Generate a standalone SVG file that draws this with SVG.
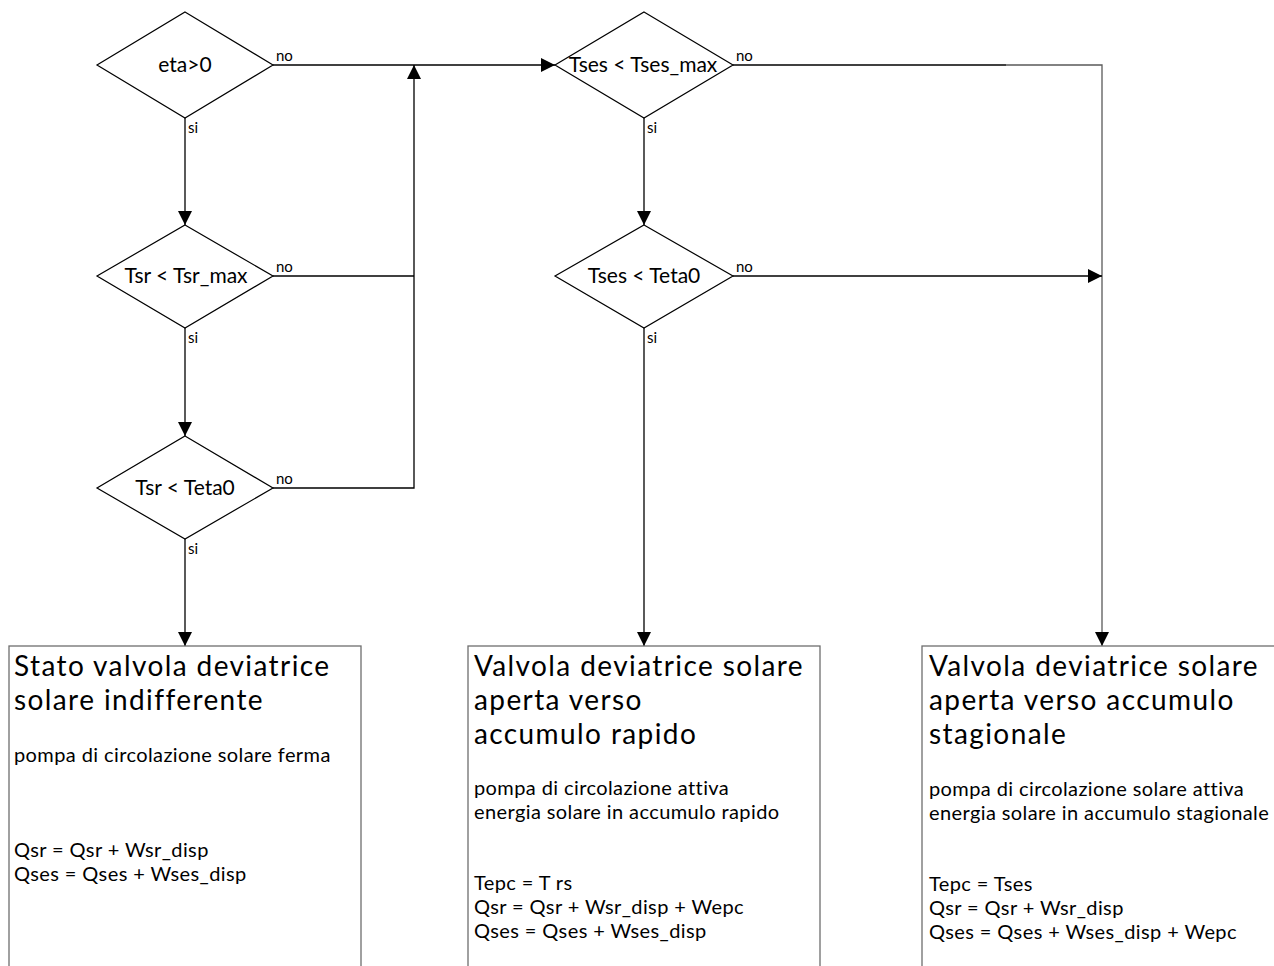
<svg xmlns="http://www.w3.org/2000/svg" width="1274" height="966" viewBox="0 0 1274 966">
<style>
.dia{fill:#fff;stroke:#000;stroke-width:1.2}
.box{fill:#fff;stroke:#6e6e6e;stroke-width:1.3}
.ln{fill:none;stroke:#000;stroke-width:1.3}
.lg{fill:none;stroke:#5a5a5a;stroke-width:1.3}
text{font-family:Lato,"Open Sans","DejaVu Sans",sans-serif;fill:#000}
.dt{font-size:21px;text-anchor:middle}
.lb{font-size:15px}
.tt{font-size:28px;letter-spacing:1.4px}
.bd{font-size:20px;letter-spacing:0.4px}
</style>
<defs>
<marker id="ar" viewBox="0 0 14 14" refX="14" refY="7" markerWidth="14" markerHeight="14" markerUnits="userSpaceOnUse" orient="auto">
<path d="M0,0 L14,7 L0,14 Z" fill="#000"/>
</marker>
</defs>
<g id="connectors">
<line class="ln" x1="185" y1="118" x2="185" y2="225" marker-end="url(#ar)"/>
<line class="ln" x1="185" y1="328" x2="185" y2="436" marker-end="url(#ar)"/>
<line class="ln" x1="185" y1="539" x2="185" y2="646" marker-end="url(#ar)"/>
<line class="ln" x1="273" y1="65" x2="555" y2="65" marker-end="url(#ar)"/>
<line class="ln" x1="273" y1="276" x2="414" y2="276"/>
<polyline class="ln" points="273,488 414,488 414,65" marker-end="url(#ar)"/>
<line class="ln" x1="644" y1="118" x2="644" y2="225" marker-end="url(#ar)"/>
<line class="ln" x1="644" y1="328" x2="644" y2="646" marker-end="url(#ar)"/>
<line class="ln" x1="733" y1="65" x2="1006" y2="65"/>
<polyline class="lg" points="1006,65 1102,65 1102,646" marker-end="url(#ar)"/>
<line class="ln" x1="733" y1="276" x2="1102" y2="276" marker-end="url(#ar)"/>
<text class="lb" x="276" y="61">no</text>
<text class="lb" x="188" y="133">si</text>
<text class="lb" x="276" y="272">no</text>
<text class="lb" x="188" y="343">si</text>
<text class="lb" x="276" y="484">no</text>
<text class="lb" x="188" y="554">si</text>
<text class="lb" x="736" y="61">no</text>
<text class="lb" x="647" y="133">si</text>
<text class="lb" x="736" y="272">no</text>
<text class="lb" x="647" y="343">si</text>
</g>
<g id="d_eta">
<polygon class="dia" points="185,12 273,65 185,118 97,65"/>
<text class="dt" x="185" y="72">eta&gt;0</text>
</g>
<g id="d_tsr_max">
<polygon class="dia" points="185,225 273,276 185,328 97,276"/>
<text class="dt" x="186" y="283">Tsr &lt; Tsr_max</text>
</g>
<g id="d_tsr_teta0">
<polygon class="dia" points="185,436 273,488 185,539 97,488"/>
<text class="dt" x="185" y="495">Tsr &lt; Teta0</text>
</g>
<g id="d_tses_max">
<polygon class="dia" points="644,12 733,65 644,118 555,65"/>
<text class="dt" x="643" y="72">Tses &lt; Tses_max</text>
</g>
<g id="d_tses_teta0">
<polygon class="dia" points="644,225 733,276 644,328 555,276"/>
<text class="dt" x="644" y="283">Tses &lt; Teta0</text>
</g>
<g id="b_indiff">
<rect class="box" x="9" y="646" width="352" height="340"/>
<text class="tt" x="14" y="676">Stato valvola deviatrice</text>
<text class="tt" x="14" y="710">solare indifferente</text>
<text class="bd" x="14" y="762">pompa di circolazione solare ferma</text>
<text class="bd" x="14" y="857">Qsr = Qsr + Wsr_disp</text>
<text class="bd" x="14" y="881">Qses = Qses + Wses_disp</text>
</g>
<g id="b_rapido">
<rect class="box" x="468" y="646" width="352" height="340"/>
<text class="tt" x="474" y="676">Valvola deviatrice solare</text>
<text class="tt" x="474" y="710">aperta verso</text>
<text class="tt" x="474" y="744">accumulo rapido</text>
<text class="bd" x="474" y="795">pompa di circolazione attiva</text>
<text class="bd" x="474" y="819">energia solare in accumulo rapido</text>
<text class="bd" x="474" y="890">Tepc = T rs</text>
<text class="bd" x="474" y="914">Qsr = Qsr + Wsr_disp + Wepc</text>
<text class="bd" x="474" y="938">Qses = Qses + Wses_disp</text>
</g>
<g id="b_stagionale">
<rect class="box" x="922" y="646" width="400" height="340"/>
<text class="tt" x="929" y="676">Valvola deviatrice solare</text>
<text class="tt" x="929" y="710">aperta verso accumulo</text>
<text class="tt" x="929" y="744">stagionale</text>
<text class="bd" x="929" y="796">pompa di circolazione solare attiva</text>
<text class="bd" x="929" y="820">energia solare in accumulo stagionale</text>
<text class="bd" x="929" y="891">Tepc = Tses</text>
<text class="bd" x="929" y="915">Qsr = Qsr + Wsr_disp</text>
<text class="bd" x="929" y="939">Qses = Qses + Wses_disp + Wepc</text>
</g>
</svg>
